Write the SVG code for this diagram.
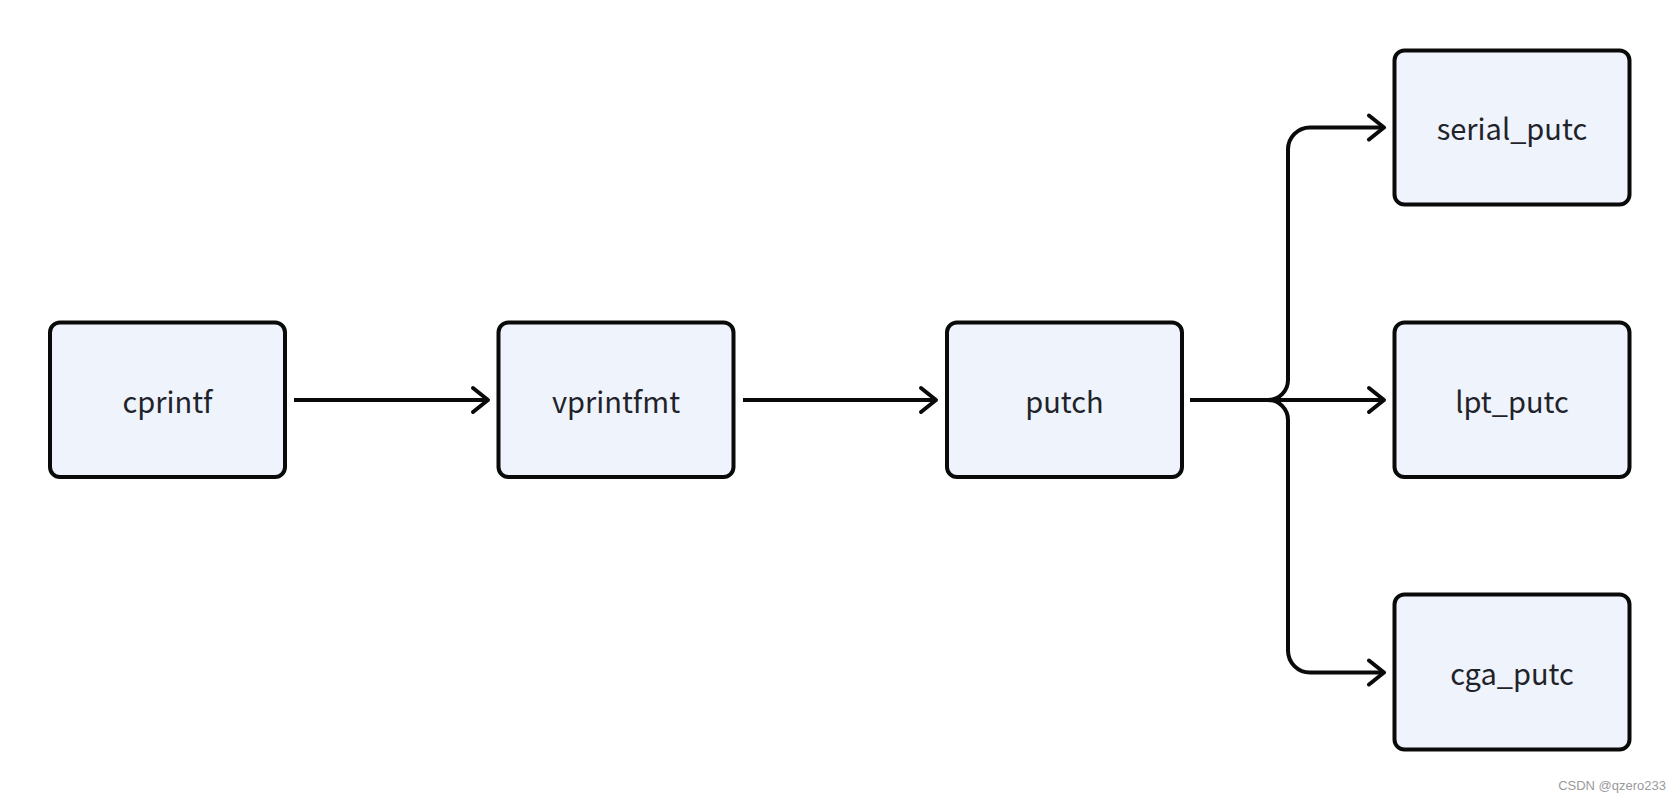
<svg xmlns="http://www.w3.org/2000/svg" width="1680" height="800" viewBox="0 0 1680 800">
<style>
.box{fill:#eef3fc;stroke:#0a0a0a;stroke-width:4}
.lbl{font-family:"Noto Sans CJK SC","Noto Sans",sans-serif;font-size:29px;fill:#1f2329;text-anchor:middle}
.edge{fill:none;stroke:#0a0a0a;stroke-width:4;stroke-linejoin:round}
.wm{font-family:"Liberation Sans",Arial,sans-serif;font-size:13px;fill:#9a9a9a;text-anchor:end}
</style>
<defs>
<marker id="arr" markerUnits="userSpaceOnUse" markerWidth="30" markerHeight="30" viewBox="-20 -15 24 30" refX="0" refY="0" orient="auto">
<path d="M-15,-12 L0,0 L-15,12" fill="none" stroke="#0a0a0a" stroke-width="4" stroke-linecap="round" stroke-linejoin="round"/>
</marker>
</defs>
<rect width="1680" height="800" fill="#ffffff"/>
<g id="connectors">
<path class="edge" d="M294,400 H488" marker-end="url(#arr)"/>
<path class="edge" d="M743,400 H936" marker-end="url(#arr)"/>
<path class="edge" d="M1190,400 H1384" marker-end="url(#arr)"/>
<path class="edge" d="M1190,400 H1268 A20,20 0 0 0 1288,380 V149.5 A22,22 0 0 1 1310,127.5 H1384" marker-end="url(#arr)"/>
<path class="edge" d="M1190,400 H1268 A20,20 0 0 1 1288,420 V650.5 A22,22 0 0 0 1310,672.5 H1384" marker-end="url(#arr)"/>
</g>
<g id="cprintf">
<rect class="box" x="50" y="322.5" width="235" height="154.5" rx="10"/>
<text class="lbl" x="167.5" y="412.5">cprintf</text>
</g>
<g id="vprintfmt">
<rect class="box" x="498.5" y="322.5" width="235" height="154.5" rx="10"/>
<text class="lbl" x="616" y="412.5">vprintfmt</text>
</g>
<g id="putch">
<rect class="box" x="947" y="322.5" width="235" height="154.5" rx="10"/>
<text class="lbl" x="1064.5" y="412.5">putch</text>
</g>
<g id="serial_putc">
<rect class="box" x="1394.5" y="50.5" width="235" height="154" rx="10"/>
<text class="lbl" x="1512" y="140">serial_putc</text>
</g>
<g id="lpt_putc">
<rect class="box" x="1394.5" y="322.5" width="235" height="154.5" rx="10"/>
<text class="lbl" x="1512" y="412.5">lpt_putc</text>
</g>
<g id="cga_putc">
<rect class="box" x="1394.5" y="594.5" width="235" height="155" rx="10"/>
<text class="lbl" x="1512" y="685">cga_putc</text>
</g>
<text class="wm" x="1666" y="790">CSDN @qzero233</text>
</svg>
